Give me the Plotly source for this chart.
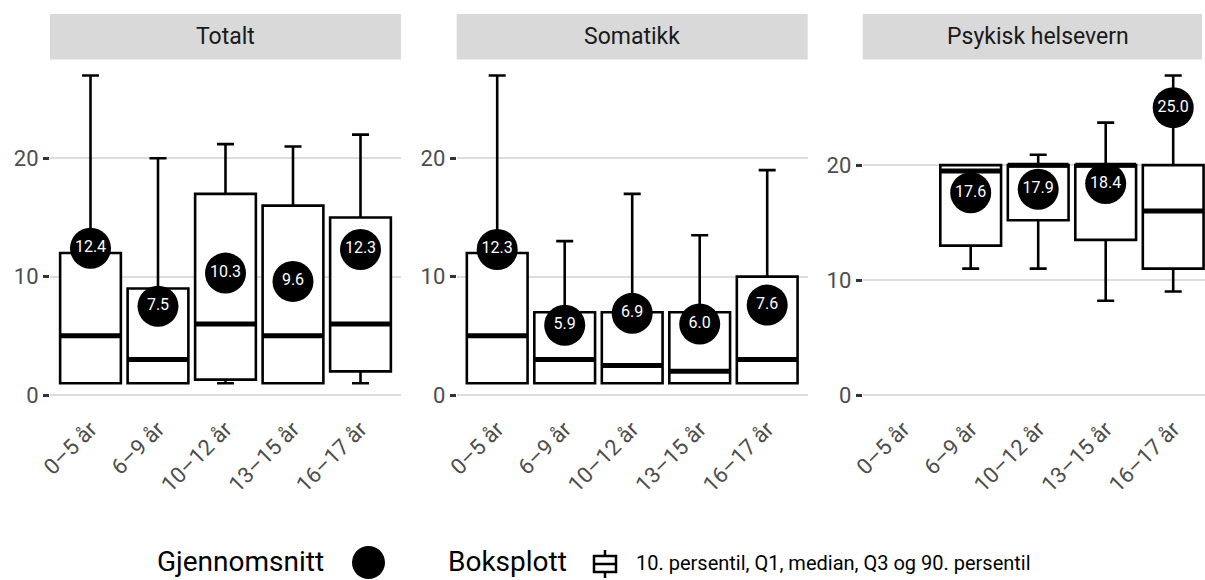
import plotly.graph_objects as go

W, H = 1205, 580

categories = ["0–5 år", "6–9 år", "10–12 år", "13–15 år", "16–17 år"]
panels = ["Totalt", "Somatikk", "Psykisk helsevern"]

tot_p10 = [1, 1, 1, 1, 1]
tot_q1 = [1, 1, 1.3, 1, 2]
tot_median = [5, 3, 6, 5, 6]
tot_q3 = [12, 9, 17, 16, 15]
tot_p90 = [27, 20, 21.2, 21, 22]
tot_mean = [12.4, 7.5, 10.3, 9.6, 12.3]

som_p10 = [1, 1, 1, 1, 1]
som_q1 = [1, 1, 1, 1, 1]
som_median = [5, 3, 2.5, 2, 3]
som_q3 = [12, 7, 7, 7, 10]
som_p90 = [27, 13, 17, 13.5, 19]
som_mean = [12.3, 5.9, 6.9, 6.0, 7.6]

psy_p10 = [None, 11, 11, 8.2, 9]
psy_q1 = [None, 13, 15.2, 13.5, 11]
psy_median = [None, 19.5, 20, 20, 16]
psy_q3 = [None, 20, 20, 20, 20]
psy_p90 = [None, 20, 20.9, 23.7, 27.8]
psy_mean = [None, 17.6, 17.9, 18.4, 25.0]

data = [
    (tot_p10, tot_q1, tot_median, tot_q3, tot_p90, tot_mean),
    (som_p10, som_q1, som_median, som_q3, som_p90, som_mean),
    (psy_p10, psy_q1, psy_median, psy_q3, psy_p90, psy_mean),
]

# layout geometry (pixels)
px_left = [50, 456.7, 862.7]
unit_px = 67.5
plot_top, plot_bot = 59.5, 411
y_ranges = [[-1.35, 28.35], [-1.35, 28.35], [-1.39, 29.19]]
BOXW = 0.9

def fx(p):
    return p / W

def fy(p):
    return 1 - p / H

fig = go.Figure()
layout = dict(
    width=W, height=H, autosize=False,
    margin=dict(l=0, r=0, t=0, b=0, autoexpand=False),
    paper_bgcolor="white", plot_bgcolor="white",
    showlegend=False,
    font=dict(family="Roboto", color="#4d4d4d"),
)

shapes = []
annotations = []
xs_all = list(range(len(categories)))

for i, (p10, q1, med, q3, p90, mean) in enumerate(data):
    sfx = "" if i == 0 else str(i + 1)
    xa, ya = "x" + sfx, "y" + sfx
    left = px_left[i]
    right = min(left + 5.2 * unit_px, W)
    xr = [-0.6, -0.6 + (right - left) / unit_px]
    layout["xaxis" + sfx] = dict(
        domain=[fx(left), fx(right)], range=xr, anchor=ya, automargin=False,
        tickmode="array", tickvals=xs_all, ticktext=categories,
        tickangle=-45, showgrid=False, zeroline=False, showline=False,
        ticks="",
        tickfont=dict(family="Roboto", size=22, color="#4d4d4d"),
    )
    layout["yaxis" + sfx] = dict(
        domain=[fy(plot_bot), fy(plot_top)], range=y_ranges[i], anchor=xa, automargin=False,
        tickvals=[0, 10, 20], showgrid=True, gridcolor="#dcdcdc", gridwidth=2,
        zeroline=False, showline=False,
        ticks="outside", ticklen=6, tickwidth=2.5, tickcolor="#333333",
        tickfont=dict(family="Roboto", size=22, color="#4d4d4d"),
    )

    idx = [k for k in xs_all if q1[k] is not None]
    fig.add_trace(go.Box(
        x=idx,
        lowerfence=[p10[k] for k in idx],
        q1=[q1[k] for k in idx],
        median=[med[k] for k in idx],
        q3=[q3[k] for k in idx],
        upperfence=[p90[k] for k in idx],
        width=BOXW, whiskerwidth=0.28, boxpoints=False,
        fillcolor="white", line=dict(color="black", width=2.6),
        xaxis=xa, yaxis=ya, hoverinfo="skip",
    ))
    mx, my = [], []
    for k in idx:
        mx += [k - BOXW / 2, k + BOXW / 2, None]
        my += [med[k], med[k], None]
    fig.add_trace(go.Scatter(
        x=mx, y=my, mode="lines", line=dict(color="black", width=5),
        xaxis=xa, yaxis=ya, hoverinfo="skip",
    ))
    fig.add_trace(go.Scatter(
        x=idx, y=[mean[k] for k in idx], mode="markers+text",
        marker=dict(size=41, color="black"),
        text=[f"{mean[k]:.1f}" for k in idx], textposition="middle center",
        textfont=dict(family="Roboto", size=16, color="white"),
        xaxis=xa, yaxis=ya, hoverinfo="skip",
    ))

    # strip
    shapes.append(dict(type="rect", xref="paper", yref="paper",
                       x0=fx(left), x1=fx(min(right, 1202)), y0=fy(59.5), y1=fy(14),
                       fillcolor="#d9d9d9", line=dict(width=0), layer="below"))
    annotations.append(dict(xref="paper", yref="paper",
                            x=fx((left + left + 5.2 * unit_px) / 2), y=fy(37),
                            text=panels[i], showarrow=False,
                            xanchor="center", yanchor="middle",
                            font=dict(family="Roboto", size=23, color="#1a1a1a")))

# legend
annotations.append(dict(xref="paper", yref="paper", x=fx(155), y=fy(561),
                        text="Gjennomsnitt", showarrow=False, xanchor="left", yanchor="middle",
                        font=dict(family="Roboto", size=28, color="black")))
shapes.append(dict(type="circle", xref="paper", yref="paper",
                   x0=fx(352), x1=fx(385), y0=fy(579), y1=fy(546),
                   fillcolor="black", line=dict(width=0)))
annotations.append(dict(xref="paper", yref="paper", x=fx(446), y=fy(561),
                        text="Boksplott", showarrow=False, xanchor="left", yanchor="middle",
                        font=dict(family="Roboto", size=28, color="black")))
ic = dict(xref="paper", yref="paper", line=dict(color="black", width=2.5))
shapes.append(dict(type="rect", x0=fx(594), x1=fx(616), y0=fy(572), y1=fy(556), **ic))
shapes.append(dict(type="line", x0=fx(594), x1=fx(616), y0=fy(564), y1=fy(564), **ic))
shapes.append(dict(type="line", x0=fx(605), x1=fx(605), y0=fy(556), y1=fy(550), **ic))
shapes.append(dict(type="line", x0=fx(605), x1=fx(605), y0=fy(578), y1=fy(572), **ic))
annotations.append(dict(xref="paper", yref="paper", x=fx(634), y=fy(563),
                        text="10. persentil, Q1, median, Q3 og 90. persentil",
                        showarrow=False, xanchor="left", yanchor="middle",
                        font=dict(family="Roboto", size=20, color="black")))

layout["shapes"] = shapes
layout["annotations"] = annotations
fig.update_layout(**layout)
fig.write_html("out.html")
